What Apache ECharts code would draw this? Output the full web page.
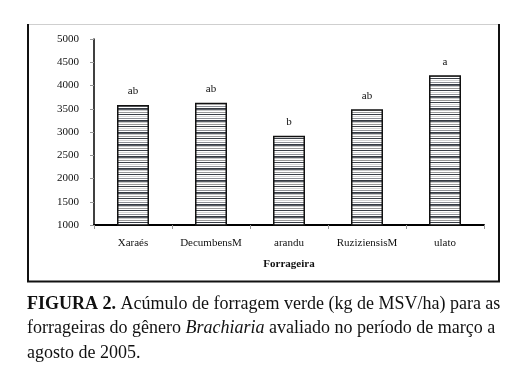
<!DOCTYPE html>
<html>
<head>
<meta charset="utf-8">
<script src="https://cdn.jsdelivr.net/npm/echarts@6/dist/echarts.min.js"></script>
<style>
html,body{margin:0;padding:0;background:#fff;}
#chart{width:528px;height:382px;}
</style>
</head>
<body>
<div id="chart"></div>
<script>
const categories = ['Xaraés', 'DecumbensM', 'arandu', 'RuziziensisM', 'ulato'];
const values = [3580, 3630, 2920, 3490, 4220];
const letters = ['ab', 'ab', 'b', 'ab', 'a'];
const yMin = 1000, yMax = 5000, yStep = 500;

const serif = '"Liberation Serif", "DejaVu Serif", serif';

// horizontal stripe pattern
const pat = document.createElement('canvas');
pat.width = 4; pat.height = 12;
const pctx = pat.getContext('2d');
const rows = ['#353a42','#5a5f66','#c8c8c8','#ffffff','#9a9a9a','#ffffff','#3a3f47','#ffffff','#d4d4d4','#ffffff','#8e9096','#ffffff'];
rows.forEach((c, i) => { pctx.fillStyle = c; pctx.fillRect(0, i, 4, 1); });

const chart = echarts.init(document.getElementById('chart'), null, {renderer: 'canvas'});
chart.setOption({
  backgroundColor: '#ffffff',
  animation: false,
  title: {
    left: 27, top: 292, padding: 0,
    text: '{b|FIGURA 2.} Acúmulo de forragem verde (kg de MSV/ha) para as\nforrageiras do gênero {i|Brachiaria} avaliado no período de março a\nagosto de 2005.',
    textStyle: {
      fontFamily: serif, fontSize: 18, fontWeight: 'normal', color: '#111', lineHeight: 24.5,
      rich: {
        b: {fontFamily: serif, fontSize: 18, fontWeight: 'bold', color: '#111', lineHeight: 24.5},
        i: {fontFamily: serif, fontSize: 18, fontStyle: 'italic', color: '#111', lineHeight: 24.5}
      }
    }
  },
  graphic: [
    {type: 'line', shape: {x1: 28, y1: 24.5, x2: 499, y2: 24.5}, style: {stroke: '#cfcfcf', lineWidth: 1}},
    {type: 'line', shape: {x1: 28, y1: 24, x2: 28, y2: 282}, style: {stroke: '#111', lineWidth: 2}},
    {type: 'line', shape: {x1: 499, y1: 24, x2: 499, y2: 282}, style: {stroke: '#111', lineWidth: 2}},
    {type: 'line', shape: {x1: 27, y1: 281.5, x2: 500, y2: 281.5}, style: {stroke: '#111', lineWidth: 2}}
  ],
  grid: {left: 94, right: 44, top: 39, bottom: 157, containLabel: false},
  xAxis: {
    type: 'category',
    data: categories,
    name: 'Forrageira',
    nameLocation: 'middle',
    nameGap: 34,
    nameTextStyle: {fontFamily: serif, fontSize: 11, fontWeight: 'bold', color: '#111'},
    axisLine: {lineStyle: {color: '#000', width: 2}},
    axisTick: {show: true, alignWithLabel: false, length: 4, lineStyle: {color: '#999'}},
    axisLabel: {interval: 0, fontFamily: serif, fontSize: 11, color: '#111', margin: 13}
  },
  yAxis: {
    type: 'value',
    min: yMin, max: yMax, interval: yStep,
    splitLine: {show: false},
    axisLine: {show: true, lineStyle: {color: '#000', width: 1.5}},
    axisTick: {show: true, length: 4, lineStyle: {color: '#999'}},
    axisLabel: {fontFamily: serif, fontSize: 11, color: '#111', margin: 15, formatter: v => String(v)}
  },
  series: [{
    type: 'bar',
    data: values,
    barWidth: 32,
    itemStyle: {
      color: {image: pat, repeat: 'repeat'},
      borderColor: '#111', borderWidth: 1.5
    },
    label: {
      show: true, position: 'top', distance: 8,
      formatter: p => letters[p.dataIndex],
      fontFamily: serif, fontSize: 11, color: '#111'
    }
  }]
});
</script>
</body>
</html>
